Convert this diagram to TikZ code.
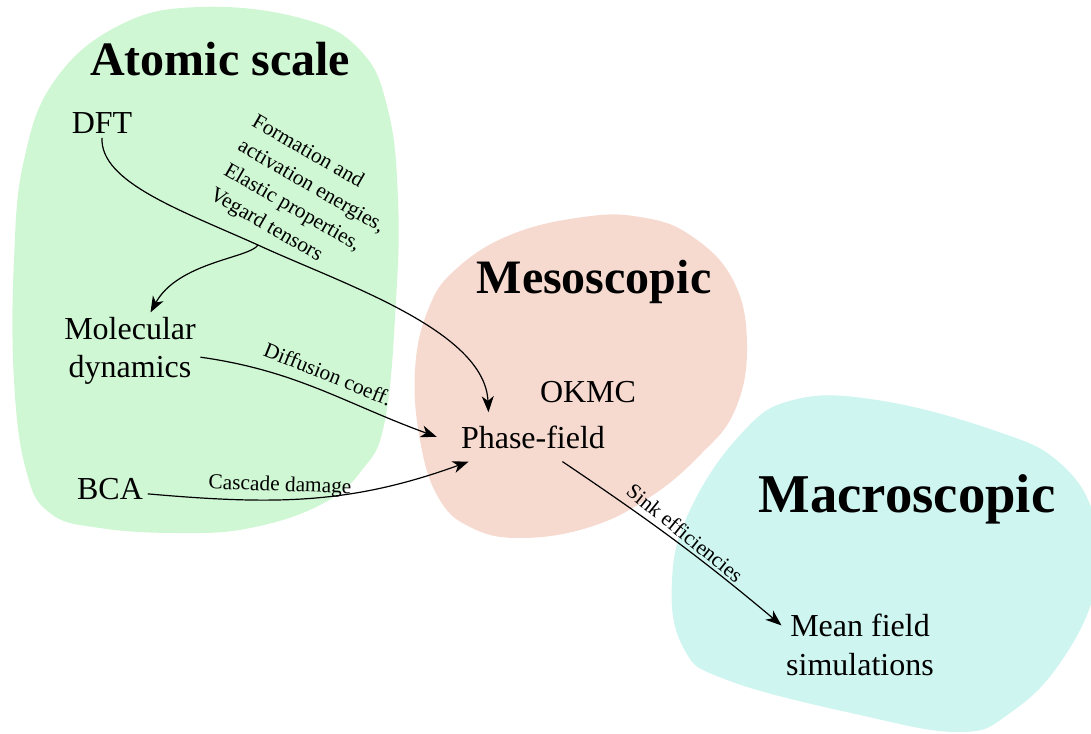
\documentclass[tikz,border=0pt]{standalone}
\usepackage{fontspec}
\setmainfont{Liberation Serif}
\usetikzlibrary{arrows.meta}
\definecolor{atomgreen}{HTML}{CFF7D3}
\definecolor{mesopink}{HTML}{F6DAD0}
\definecolor{macrocyan}{HTML}{CEF5EF}
\begin{document}
\begin{tikzpicture}[x=0.75pt,y=-0.75pt,
  title/.style={font=\fontsize{36}{40}\selectfont\bfseries, inner sep=0pt, anchor=base},
  method/.style={font=\fontsize{24}{29}\selectfont, align=center},
  lbl/.style={font=\fontsize{16}{21}\selectfont, inner sep=0pt},
  conn/.style={line width=0.9pt, -{Stealth[length=12pt,width=9pt,inset=3.5pt]}}]
\useasboundingbox (0,0) rectangle (1091,733);
\begin{scope}
\clip (0,0) rectangle (1091,733);
% blobs
\fill[atomgreen] plot[smooth cycle, tension=0.7] coordinates {
  (200,7) (300,18) (360,50) (388,110) (398,200) (396,300) (385,420)
  (362,470) (320,505) (250,528) (180,533) (100,528) (50,513) (26,470)
  (14,380) (14,260) (24,160) (55,80) (120,25)};
\fill[mesopink] plot[smooth cycle, tension=0.7] coordinates {
  (583,217) (640,217) (690,235) (733,280) (747,345) (735,410) (700,455)
  (650,497) (590,527) (520,538) (470,527) (438,497) (420,440) (415,370)
  (428,310) (455,270) (510,235)};
\fill[macrocyan] plot[smooth cycle, tension=0.7] coordinates {
  (793,400) (877,400) (993,430) (1060,463) (1095,520) (1095,590) (1060,663)
  (1010,713) (960,732) (860,715) (727,680) (683,647) (672,580) (690,510)
  (740,435)};
\end{scope}

% titles
\node[title] (atomic) at (220,75) {Atomic scale};
\node[title] (meso) at (594,293) {Mesoscopic};
\node[title, font=\fontsize{41}{45}\selectfont\bfseries] (macro) at (907,512) {Macroscopic};

% methods
\node[method, anchor=base] (dft) at (102,133) {DFT};
\node[method] (mol) at (130,351) {Molecular\\dynamics};
\node[method, anchor=base] (bca) at (110,499) {BCA};
\node[method, anchor=base] (okmc) at (588,402) {OKMC};
\node[method, anchor=base, inner xsep=18pt, inner ysep=9.75pt] (pf) at (533,448) {Phase-field};
\node[method] (mf) at (860,645) {Mean field\\simulations};

% connectors
\coordinate (br) at (258,245);
\draw[conn] (dft.south) .. controls (100,182) and (180,210) .. (br)
  .. controls (340,283) and (485,330) .. (pf.151);
\draw[conn] (br) .. controls (250,258) and (178,262) .. (mol.62);
\draw[conn] (mol.-5) to[out=-8, in=160] (pf.west);
\draw[conn] (bca.-8) to[out=-5, in=200] (pf.201);
\draw[conn] (pf.-40) to[out=-34, in=140] (mf.166);

% connector labels
\node[lbl, align=left, rotate=-30] (lblfe) at (304,199) {Formation and\\activation energies,\\Elastic properties,\\Vegard tensors};
\node[lbl, rotate=-22] (lbldc) at (328,374) {Diffusion coeff.};
\node[lbl, rotate=-2] (lblcd) at (280,486) {Cascade damage};
\node[lbl, rotate=-39] (lblse) at (685,533) {Sink efficiencies};
\end{tikzpicture}
\end{document}
